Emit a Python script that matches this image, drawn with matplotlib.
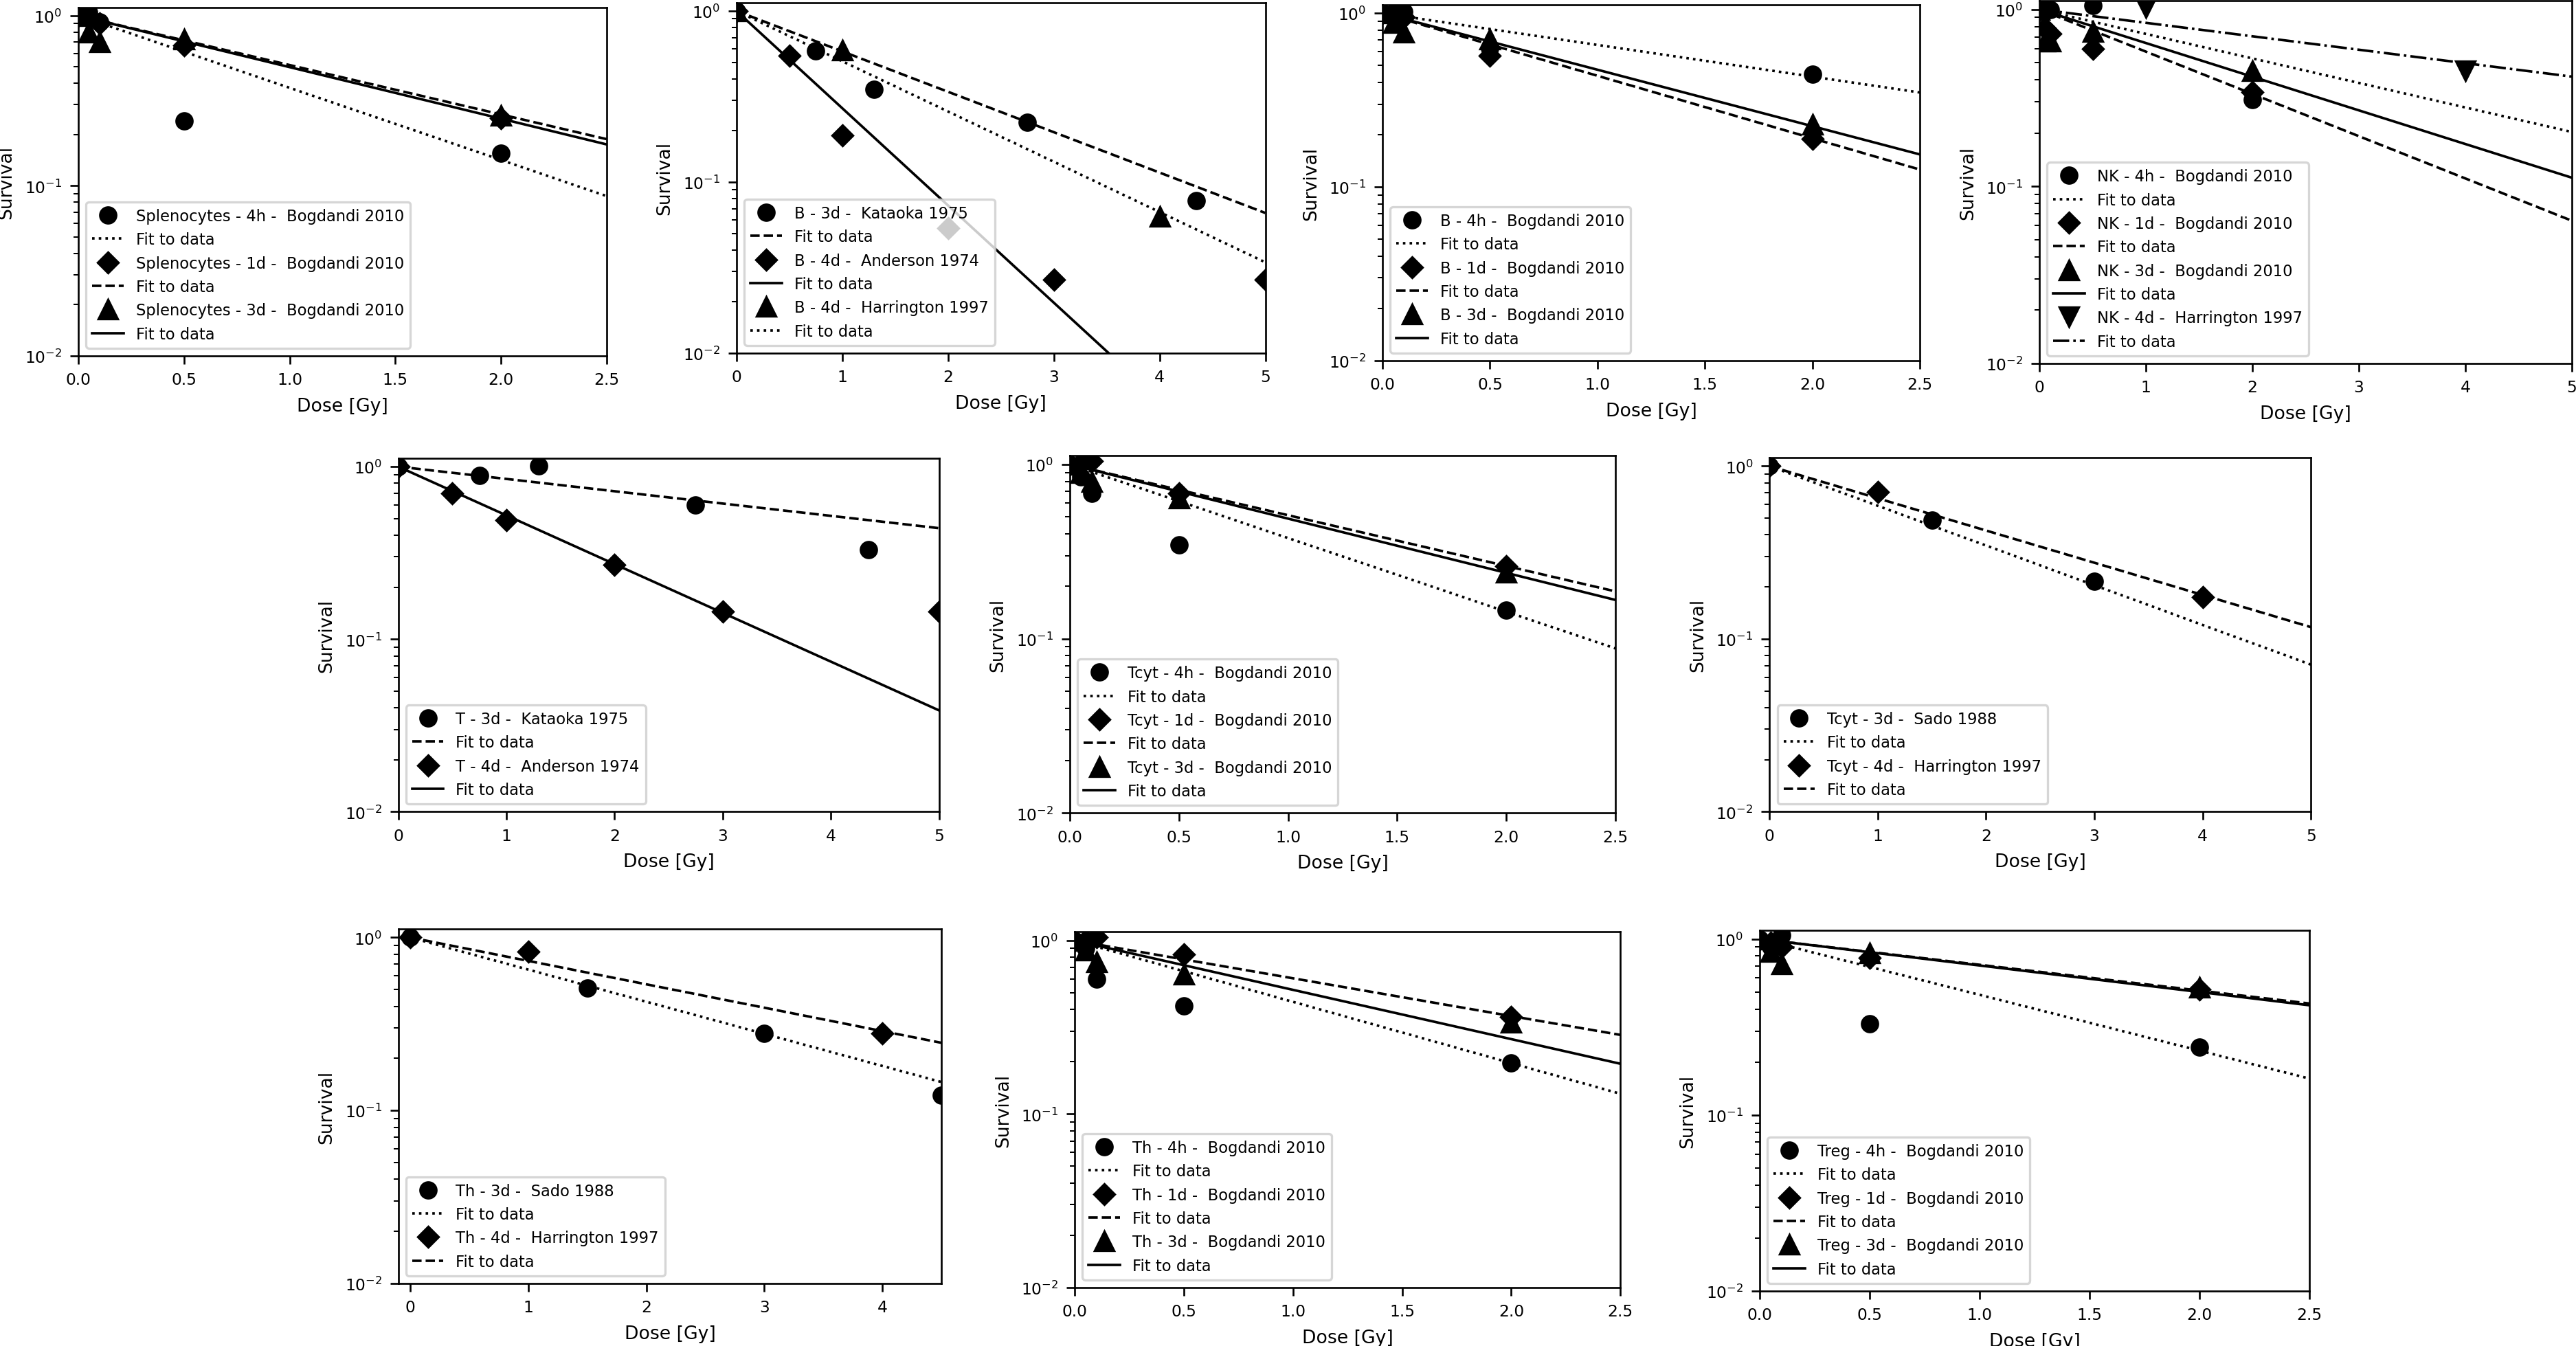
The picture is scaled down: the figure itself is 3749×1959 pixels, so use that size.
import numpy as np
import matplotlib
matplotlib.use("Agg")
import matplotlib.pyplot as plt

# doses (Gy) used in the different studies
bog_dose = [0, 0.05, 0.1, 0.5, 2.0]
kat_dose = [0, 0.75, 1.3, 2.75, 4.35]
and_dose = [0, 0.5, 1, 2, 3, 5]
har_dose = [0, 1, 4]
sado_tcyt_dose = [0, 1.5, 3]
sado_th_dose = [0, 1.5, 3, 4.5]

# Splenocytes - Bogdandi 2010
spl_4h = [1.0, 1.05, 0.92, 0.24, 0.155]
spl_1d = [1.0, 0.97, 0.9, 0.67, 0.25]
spl_3d = [1.0, 0.8, 0.7, 0.73, 0.26]
spl_fit_end = [0.087, 0.188, 0.175]   # surv. of fit at 2.5 Gy (4h, 1d, 3d)

# B cells
b_kat = [1.0, 0.586, 0.35, 0.224, 0.078]
b_and = [1.0, 0.546, 0.188, 0.054, 0.027, 0.027]
b_har = [1.0, 0.59, 0.063]
b_lit_fit_x = [5, 3.52, 5]            # end dose of fit (Kataoka, Anderson, Harrington)
b_lit_fit_end = [0.066, 0.01, 0.034]
b_4h = [1.0, 1.0, 1.02, 0.63, 0.445]
b_1d = [1.0, 0.97, 0.95, 0.57, 0.19]
b_3d = [1.0, 0.88, 0.78, 0.71, 0.23]
b_fit_end = [0.35, 0.126, 0.154]

# NK cells
nk_4h = [1.0, 1.05, 1.0, 1.05, 0.31]
nk_1d = [1.0, 0.78, 0.73, 0.6, 0.34]
nk_3d = [1.0, 0.66, 0.66, 0.75, 0.45]
nk_har = [1.0, 1.02, 0.45]
nk_fit_end = [0.203, 0.064, 0.112, 0.417]   # at 5 Gy

# T cells
t_kat = [1.0, 0.89, 1.01, 0.60, 0.33]
t_and = [1.0, 0.70, 0.49, 0.27, 0.145, 0.145]
t_fit_end = [0.44, 0.0387]

# cytotoxic T cells
tcyt_4h = [1.0, 0.85, 0.68, 0.347, 0.146]
tcyt_1d = [1.0, 1.02, 1.05, 0.68, 0.26]
tcyt_3d = [1.0, 0.9, 0.8, 0.64, 0.24]
tcyt_fit_end = [0.088, 0.187, 0.167]
tcyt_sado = [1.0, 0.486, 0.215]
tcyt_har = [1.0, 0.71, 0.174]
tcyt_lit_fit_end = [0.071, 0.117]

# helper T cells
th_sado = [1.0, 0.51, 0.279, 0.122]
th_har = [1.0, 0.83, 0.28]
th_lit_fit_end = [0.146, 0.246]       # at 4.5 Gy
th_4h = [1.0, 0.9, 0.6, 0.42, 0.198]
th_1d = [1.0, 1.0, 1.05, 0.83, 0.363]
th_3d = [1.0, 0.88, 0.75, 0.64, 0.337]
th_fit_end = [0.131, 0.286, 0.195]

# regulatory T cells
treg_4h = [1.0, 0.9, 1.05, 0.329, 0.243]
treg_1d = [1.0, 0.95, 0.9, 0.78, 0.515]
treg_3d = [1.0, 0.85, 0.72, 0.83, 0.53]
treg_fit_end = [0.161, 0.43, 0.42]


def bog_series(cell, s4h, s1d, s3d, fit_end, xmax):
    return [
        (cell + " - 4h -  Bogdandi 2010", bog_dose, s4h, "o", ":", xmax, fit_end[0]),
        (cell + " - 1d -  Bogdandi 2010", bog_dose, s1d, "D", "--", xmax, fit_end[1]),
        (cell + " - 3d -  Bogdandi 2010", bog_dose, s3d, "^", "-", xmax, fit_end[2]),
    ]


panels = [
    # rect, xlim, xticks, series
    ([0.0304, 0.7352, 0.2051, 0.2589], (0, 2.5), np.arange(0, 2.6, 0.5),
     bog_series("Splenocytes", spl_4h, spl_1d, spl_3d, spl_fit_end, 2.5)),
    ([0.2859, 0.7372, 0.2053, 0.2604], (0, 5), range(6), [
        ("B - 3d -  Kataoka 1975", kat_dose, b_kat, "o", "--", b_lit_fit_x[0], b_lit_fit_end[0]),
        ("B - 4d -  Anderson 1974", and_dose, b_and, "D", "-", b_lit_fit_x[1], b_lit_fit_end[1]),
        ("B - 4d -  Harrington 1997", har_dose, b_har, "^", ":", b_lit_fit_x[2], b_lit_fit_end[2]),
    ]),
    ([0.5367, 0.7316, 0.2086, 0.2644], (0, 2.5), np.arange(0, 2.6, 0.5),
     bog_series("B", b_4h, b_1d, b_3d, b_fit_end, 2.5)),
    ([0.7917, 0.7296, 0.2067, 0.2694], (0, 5), range(6),
     bog_series("NK", nk_4h, nk_1d, nk_3d, nk_fit_end, 5) + [
        ("NK - 4d -  Harrington 1997", har_dose, nk_har, "v", "-.", 5, nk_fit_end[3]),
    ]),
    ([0.1546, 0.3967, 0.2099, 0.2626], (0, 5), range(6), [
        ("T - 3d -  Kataoka 1975", kat_dose, t_kat, "o", "--", 5, t_fit_end[0]),
        ("T - 4d -  Anderson 1974", and_dose, t_and, "D", "-", 5, t_fit_end[1]),
    ]),
    ([0.4153, 0.3957, 0.2118, 0.2653], (0, 2.5), np.arange(0, 2.6, 0.5),
     bog_series("Tcyt", tcyt_4h, tcyt_1d, tcyt_3d, tcyt_fit_end, 2.5)),
    ([0.6869, 0.3967, 0.2102, 0.2630], (0, 5), range(6), [
        ("Tcyt - 3d -  Sado 1988", sado_tcyt_dose, tcyt_sado, "o", ":", 5, tcyt_lit_fit_end[0]),
        ("Tcyt - 4d -  Harrington 1997", har_dose, tcyt_har, "D", "--", 5, tcyt_lit_fit_end[1]),
    ]),
    ([0.1546, 0.0464, 0.2109, 0.2633], (-0.1, 4.5), range(5), [
        ("Th - 3d -  Sado 1988", sado_th_dose, th_sado, "o", ":", 4.5, th_lit_fit_end[0]),
        ("Th - 4d -  Harrington 1997", har_dose, th_har, "D", "--", 4.5, th_lit_fit_end[1]),
    ]),
    ([0.4172, 0.0434, 0.2118, 0.2640], (0, 2.5), np.arange(0, 2.6, 0.5),
     bog_series("Th", th_4h, th_1d, th_3d, th_fit_end, 2.5)),
    ([0.6831, 0.0408, 0.2134, 0.2679], (0, 2.5), np.arange(0, 2.6, 0.5),
     bog_series("Treg", treg_4h, treg_1d, treg_3d, treg_fit_end, 2.5)),
]

marker_size = {"o": 7, "D": 6.3, "^": 8.5, "v": 8.5}

fig = plt.figure(figsize=(3749 / 240, 1960 / 240), dpi=240)

for rect, xlim, xticks, series in panels:
    ax = fig.add_axes(rect)
    for label, dose, surv, marker, ls, fit_x, fit_end in series:
        ax.plot(dose, surv, linestyle="none", marker=marker, color="k",
                markersize=marker_size[marker], label=label)
        # fit S = exp(-a*D) is a straight line on the log axis: two end points
        ax.plot([0, fit_x], [1.0, fit_end], linestyle=ls, color="k",
                linewidth=1.1, label="Fit to data")
    ax.set_yscale("log")
    ax.set_ylim(0.01, 1.12)
    ax.set_xlim(*xlim)
    ax.set_xticks(list(xticks))
    ax.tick_params(labelsize=7)
    ax.set_xlabel("Dose [Gy]", fontsize=8)
    ax.set_ylabel("Survival", fontsize=8)
    ax.legend(loc="lower left", fontsize=6.8)

fig.savefig("out.png", dpi=240)
